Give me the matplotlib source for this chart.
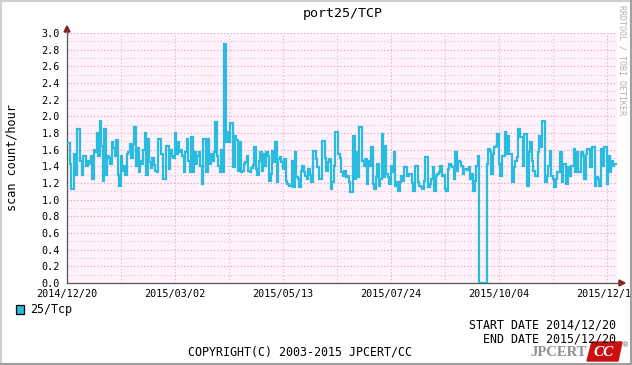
import numpy as np
import matplotlib
matplotlib.use("Agg")
import matplotlib.pyplot as plt
from matplotlib.patches import Rectangle
from matplotlib.lines import Line2D

# daily scan count/hour for port25/TCP
vals_a = [1.68, 1.68, 1.43, 1.13, 1.13, 1.55, 1.30, 1.85, 1.85, 1.47,
          1.30, 1.53, 1.53, 1.40, 1.47, 1.43, 1.52, 1.25, 1.60, 1.57,
          1.80, 1.53, 1.95, 1.65, 1.23, 1.85, 1.30, 1.52, 1.50, 1.43,
          1.69, 1.62, 1.52, 1.72, 1.30, 1.17, 1.52, 1.35, 1.40, 1.30,
          1.55, 1.57, 1.67, 1.50, 1.67, 1.87, 1.40, 1.62, 1.33, 1.47,
          1.43, 1.60, 1.80, 1.30, 1.73, 1.45, 1.38, 1.50, 1.42, 1.35]
vals_b = [1.33, 1.73, 1.73, 1.55, 1.25, 1.25, 1.65, 1.65, 1.37, 1.60,
          1.52, 1.50, 1.80, 1.55, 1.69, 1.57, 1.60, 1.52, 1.33, 1.57,
          1.73, 1.47, 1.33, 1.75, 1.33, 1.57, 1.43, 1.52, 1.57, 1.41,
          1.19, 1.73, 1.73, 1.33, 1.73, 1.43, 1.55, 1.47, 1.57, 1.93,
          1.53, 1.41, 1.33, 1.60, 1.33, 2.87, 1.69, 1.81, 1.69, 1.92,
          1.92, 1.39, 1.77, 1.72, 1.35, 1.69, 1.33, 1.35, 1.43, 1.45,
          1.52, 1.35, 1.33, 1.38, 1.42]
vals_c = [1.63, 1.37, 1.30, 1.47, 1.57, 1.35, 1.55, 1.41, 1.57, 1.52,
          1.23, 1.31, 1.59, 1.45, 1.69, 1.21, 1.49, 1.51, 1.45, 1.37,
          1.49, 1.23, 1.19, 1.17, 1.17, 1.47, 1.15, 1.57, 1.27, 1.25,
          1.15, 1.35, 1.41, 1.33, 1.29, 1.25, 1.37, 1.30, 1.21, 1.59,
          1.59, 1.49, 1.39, 1.25, 1.25, 1.71, 1.71, 1.50, 1.35, 1.45,
          1.49, 1.13, 1.21, 1.40, 1.81, 1.81, 1.55, 1.50, 1.33, 1.29,
          1.35]
vals_d = [1.27, 1.29, 1.21, 1.09, 1.09, 1.77, 1.25, 1.57, 1.27, 1.87,
          1.87, 1.47, 1.41, 1.49, 1.19, 1.47, 1.40, 1.63, 1.19, 1.13,
          1.27, 1.43, 1.17, 1.25, 1.79, 1.27, 1.65, 1.31, 1.27, 1.19,
          1.41, 1.33, 1.57, 1.17, 1.21, 1.11, 1.21, 1.29, 1.23, 1.39,
          1.39, 1.29, 1.31, 1.31, 1.20, 1.11, 1.41, 1.41, 1.21, 1.17,
          1.15, 1.13, 1.23, 1.51, 1.51, 1.15, 1.19, 1.25, 1.39, 1.11,
          1.29]
vals_e = [1.31, 1.33, 1.41, 1.29, 1.30, 1.13, 1.11, 1.37, 1.43, 1.41,
          1.39, 1.25, 1.57, 1.35, 1.47, 1.45, 1.41, 1.31, 1.37, 1.37,
          1.36, 1.39, 1.25, 1.31, 1.11, 1.23, 1.40, 1.53, 0.00, 0.00,
          0.00, 0.00, 0.00, 1.43, 1.61, 1.59, 1.31, 1.55, 1.63, 1.65,
          1.79, 1.43, 1.29, 1.53, 1.53, 1.81, 1.55, 1.77, 1.55, 1.55,
          1.21, 1.39, 1.47, 1.51, 1.85, 1.75, 1.75, 1.41, 1.79, 1.79,
          1.17, 1.57]
vals_f = [1.69, 1.47, 1.35, 1.29, 1.29, 1.57, 1.77, 1.63, 1.95, 1.95,
          1.21, 1.29, 1.41, 1.59, 1.29, 1.25, 1.15, 1.25, 1.33, 1.33,
          1.57, 1.21, 1.43, 1.43, 1.19, 1.39, 1.29, 1.41, 1.41, 1.61,
          1.33, 1.57, 1.33, 1.33, 1.57, 1.52, 1.25, 1.55, 1.61, 1.61,
          1.39, 1.63, 1.63, 1.17, 1.27, 1.25, 1.17, 1.61, 1.41, 1.63,
          1.63, 1.19, 1.52, 1.33, 1.47, 1.41, 1.43, 1.43]
values = vals_a + vals_b + vals_c + vals_d + vals_e + vals_f

start = np.datetime64("2014-12-20")
dates = start + np.arange(len(values)).astype("timedelta64[D]")
tick_dates = ["2014-12-20", "2015-03-02", "2015-05-13",
              "2015-07-24", "2015-10-04", "2015-12-15"]
minor_dates = ["2015-01-25", "2015-04-07", "2015-06-18",
               "2015-08-29", "2015-11-09"]
yticks = [0.0, 0.2, 0.4, 0.6, 0.8, 1.0, 1.2, 1.4, 1.6, 1.8,
          2.0, 2.2, 2.4, 2.6, 2.8, 3.0]

W, H = 632, 365
fig = plt.figure(figsize=(W / 100, H / 100), dpi=100)
fig.patch.set_facecolor("white")
mono = "DejaVu Sans Mono"

def fx(px):
    return px / W

def fy(py):
    return 1 - py / H

ax = fig.add_axes([fx(67), fy(283), (617 - 67) / W, (283 - 33) / H])
ax.set_facecolor("#fff2fc")

line_col = "#29bbe0"
ax.plot(dates, values, drawstyle="steps-post", color=line_col,
        lw=1.6, solid_joinstyle="miter", zorder=3)

ax.set_xlim(start, start + np.timedelta64(367, "D"))
ax.set_ylim(0, 3.0)

# grid
for y in np.arange(0.1, 3.01, 0.1):
    major = abs(round(y / 0.2) * 0.2 - y) < 1e-6
    ax.axhline(y, color="#e89aa8" if major else "#eebbc6",
               lw=0.8, ls=(0, (1, 2)), zorder=1)
for d in tick_dates[1:]:
    ax.axvline(np.datetime64(d), color="#e4a8b8", lw=0.8, ls=(0, (1, 2)), zorder=1)
for d in minor_dates:
    ax.axvline(np.datetime64(d), color="#d8bcc8", lw=0.8, ls=(0, (1, 2)), zorder=1)

ax.set_xticks([np.datetime64(d) for d in tick_dates])
ax.set_xticklabels([d.replace("-", "/") for d in tick_dates])
ax.set_yticks(yticks)
ax.set_yticklabels([f"{v:.1f}" for v in yticks])
ax.tick_params(length=0, labelsize=7.3, colors="black")
ax.tick_params(axis="y", pad=5)
ax.tick_params(axis="x", pad=4)
for lab in ax.get_xticklabels() + ax.get_yticklabels():
    lab.set_fontfamily(mono)

for s in ["top", "right"]:
    ax.spines[s].set_visible(False)
for s in ["left", "bottom"]:
    ax.spines[s].set_color("#555555")
    ax.spines[s].set_linewidth(0.9)

# axis arrows
arrow_col = "#8b1a1a"
fig.add_artist(Line2D([fx(617), fx(620)], [fy(283), fy(283)], color="#555555", lw=0.9))
fig.add_artist(Line2D([fx(67), fx(67)], [fy(33), fy(30)], color="#555555", lw=0.9))
fig.patches.append(plt.Polygon([[fx(619), fy(280)], [fx(619), fy(286)], [fx(625), fy(283)]],
                               closed=True, color=arrow_col, transform=fig.transFigure, figure=fig))
fig.patches.append(plt.Polygon([[fx(64), fy(32)], [fx(70), fy(32)], [fx(67), fy(26)]],
                               closed=True, color=arrow_col, transform=fig.transFigure, figure=fig))

# texts
fig.text(fx(343), fy(14), "port25/TCP", ha="center", va="center",
         fontsize=9.6, family=mono)
fig.text(fx(12), fy(158), "scan count/hour", ha="center", va="center",
         rotation=90, fontsize=8.6, family=mono)
fig.text(fx(622), fy(5), "RRDTOOL / TOBI OETIKER", ha="center", va="top",
         rotation=270, fontsize=6.0, family=mono, color="#b0b0b0")

fig.patches.append(Rectangle((fx(16), fy(314)), 8 / W, 9 / H, transform=fig.transFigure,
                             facecolor=line_col, edgecolor="black", lw=0.9, figure=fig))
fig.text(fx(30), fy(310), "25/Tcp", ha="left", va="center", fontsize=8.4, family=mono)

fig.text(fx(616), fy(325), "START DATE 2014/12/20", ha="right", va="center",
         fontsize=8.4, family=mono)
fig.text(fx(616), fy(339), "END DATE 2015/12/20", ha="right", va="center",
         fontsize=8.4, family=mono)
fig.text(fx(300), fy(352), "COPYRIGHT(C) 2003-2015 JPCERT/CC", ha="center", va="center",
         fontsize=8.4, family=mono)

# logo
fig.text(fx(587), fy(353), "JPCERT", ha="right", va="center", fontsize=10.5,
         family="Liberation Serif", weight="bold", color="#8a9090")
fig.patches.append(plt.Polygon([[fx(592), fy(342)], [fx(622), fy(342)], [fx(618), fy(361)], [fx(587), fy(361)]],
                               closed=True, color="#cc1010", transform=fig.transFigure, figure=fig))
fig.text(fx(604), fy(352), "CC", ha="center", va="center", fontsize=11,
         family="Liberation Serif", weight="bold", color="white", style="italic")
fig.text(fx(626), fy(345), "®", ha="center", va="center", fontsize=5, color="#555555")

# image frame
fig.patches.append(Rectangle((0, 0), 1, 1, transform=fig.transFigure, fill=False,
                             edgecolor="#cfcfcf", lw=3, figure=fig))
fig.add_artist(Line2D([0, 1], [1.5 / H, 1.5 / H], color="#a0a0a0", lw=2.2))
fig.add_artist(Line2D([1 - 1.5 / W, 1 - 1.5 / W], [0, 1], color="#a0a0a0", lw=2.2))

fig.savefig("out.png", dpi=100)
